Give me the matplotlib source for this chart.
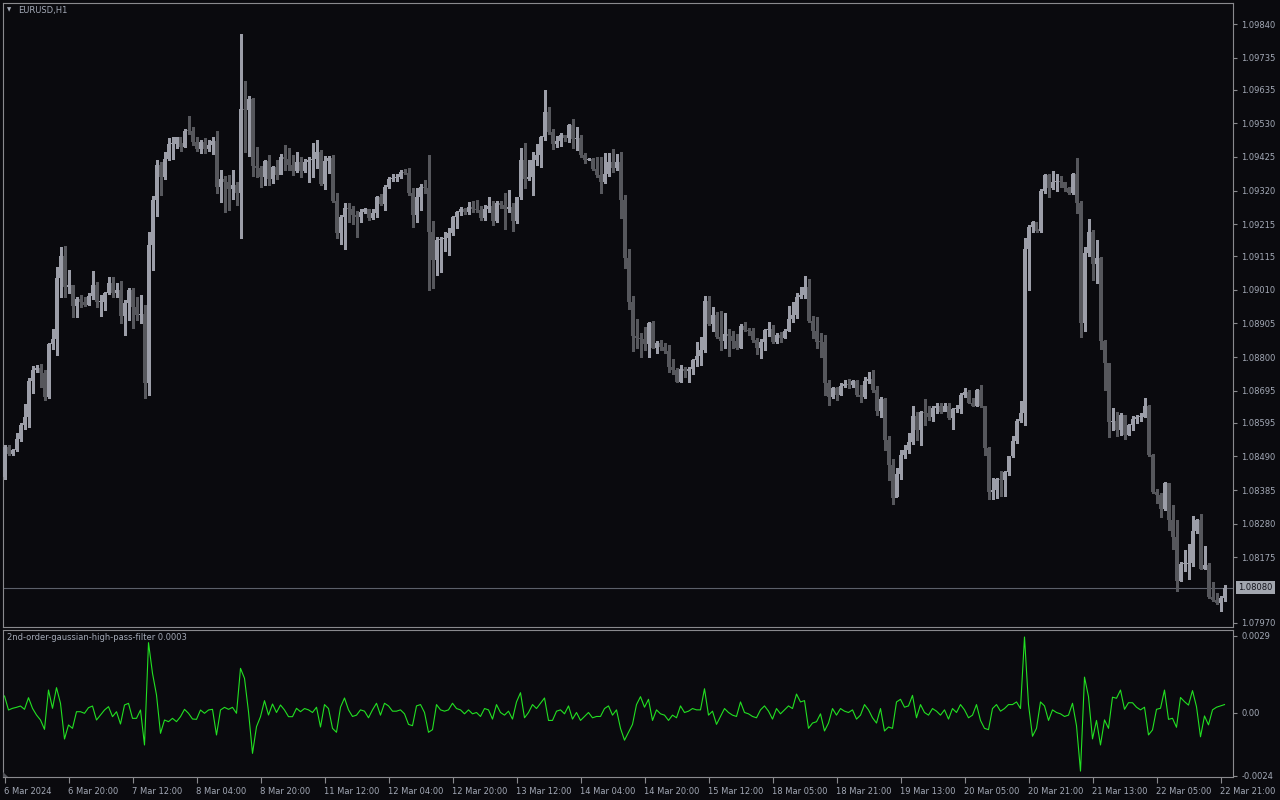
import matplotlib
matplotlib.use('Agg')
import matplotlib.pyplot as plt
import matplotlib.transforms as mtransforms
import numpy as np

symbol_title = "EURUSD,H1"
indicator_title = "2nd-order-gaussian-high-pass-filter 0.0003"
first_open = 1.08427
closes = [
1.08520,1.08499,1.08510,1.08543,1.08587,1.08612,1.08725,1.08760,1.08765,1.08749,
1.08676,1.08841,1.08858,1.09046,1.09115,1.09018,1.09025,1.08959,1.08983,1.08973,
1.08962,1.08990,1.09025,1.08973,1.08973,1.08999,1.09030,1.08999,1.09009,1.08928,
1.08970,1.09009,1.08957,1.08931,1.08934,1.08718,1.09150,1.09292,1.09400,1.09363,
1.09417,1.09465,1.09465,1.09486,1.09457,1.09507,1.09505,1.09472,1.09451,1.09471,
1.09451,1.09461,1.09474,1.09330,1.09356,1.09348,1.09326,1.09337,1.09311,1.09576,
1.09571,1.09606,1.09397,1.09389,1.09363,1.09412,1.09356,1.09394,1.09368,1.09426,
1.09417,1.09400,1.09382,1.09410,1.09382,1.09410,1.09415,1.09418,1.09440,1.09340,
1.09413,1.09422,1.09288,1.09188,1.09238,1.09267,1.09263,1.09243,1.09236,1.09254,
1.09262,1.09233,1.09251,1.09301,1.09278,1.09332,1.09356,1.09358,1.09363,1.09378,
1.09376,1.09311,1.09243,1.09299,1.09332,1.09329,1.09192,1.09102,1.09166,1.09169,
1.09172,1.09187,1.09238,1.09253,1.09263,1.09252,1.09268,1.09261,1.09260,1.09234,
1.09263,1.09272,1.09226,1.09282,1.09275,1.09262,1.09270,1.09226,1.09299,1.09415,
1.09356,1.09363,1.09415,1.09431,1.09487,1.09565,1.09504,1.09465,1.09475,1.09493,
1.09485,1.09525,1.09481,1.09483,1.09431,1.09415,1.09419,1.09387,1.09369,1.09346,
1.09371,1.09408,1.09389,1.09408,1.09291,1.09110,1.08971,1.08867,1.08861,1.08857,
1.08840,1.08905,1.08830,1.08845,1.08833,1.08819,1.08770,1.08760,1.08723,1.08763,
1.08757,1.08763,1.08791,1.08804,1.08822,1.08975,1.08902,1.08932,1.08864,1.08850,
1.08873,1.08867,1.08850,1.08827,1.08897,1.08885,1.08880,1.08854,1.08827,1.08846,
1.08885,1.08888,1.08846,1.08869,1.08861,1.08882,1.08918,1.08932,1.08988,1.08994,
1.09018,1.08913,1.08880,1.08848,1.08846,1.08718,1.08677,1.08703,1.08682,1.08710,
1.08715,1.08713,1.08726,1.08682,1.08675,1.08726,1.08732,1.08698,1.08633,1.08669,
1.08540,1.08463,1.08360,1.08435,1.08495,1.08510,1.08534,1.08617,1.08572,1.08630,
1.08627,1.08614,1.08641,1.08648,1.08630,1.08648,1.08609,1.08637,1.08637,1.08682,
1.08692,1.08658,1.08648,1.08696,1.08646,1.08516,1.08380,1.08385,1.08419,1.08417,
1.08440,1.08490,1.08538,1.08602,1.08627,1.09138,1.09206,1.09223,1.09194,1.09319,
1.09369,1.09327,1.09348,1.09348,1.09346,1.09327,1.09312,1.09372,1.09280,1.08908,
1.09124,1.09192,1.09090,1.09109,1.08849,1.08781,1.08596,1.08599,1.08571,1.08618,
1.08557,1.08588,1.08607,1.08612,1.08614,1.08646,1.08495,1.08380,1.08370,1.08325,
1.08408,1.08292,1.08238,1.08102,1.08154,1.08154,1.08156,1.08258,1.08290,1.08140,
1.08151,1.08050,1.08042,1.08031,1.08047,1.08080]
highs = [
1.08525,1.08525,1.08512,1.08562,1.08595,1.08655,1.08734,1.08772,1.08775,1.08780,
1.08760,1.08845,1.08887,1.09080,1.09143,1.09147,1.09072,1.09025,1.08988,1.08994,
1.08988,1.08999,1.09070,1.09035,1.08994,1.09004,1.09049,1.09049,1.09030,1.09038,
1.08978,1.09015,1.09015,1.08988,1.08994,1.08962,1.09191,1.09303,1.09415,1.09410,
1.09441,1.09483,1.09486,1.09488,1.09467,1.09511,1.09553,1.09519,1.09486,1.09478,
1.09483,1.09478,1.09486,1.09507,1.09384,1.09365,1.09368,1.09384,1.09347,1.09808,
1.09663,1.09615,1.09608,1.09457,1.09396,1.09415,1.09431,1.09396,1.09415,1.09434,
1.09462,1.09452,1.09431,1.09441,1.09426,1.09417,1.09426,1.09467,1.09478,1.09446,
1.09428,1.09428,1.09431,1.09311,1.09243,1.09282,1.09280,1.09272,1.09257,1.09261,
1.09267,1.09261,1.09261,1.09303,1.09309,1.09336,1.09363,1.09371,1.09371,1.09384,
1.09386,1.09389,1.09327,1.09327,1.09340,1.09353,1.09431,1.09225,1.09176,1.09176,
1.09192,1.09202,1.09241,1.09257,1.09269,1.09267,1.09284,1.09286,1.09290,1.09273,
1.09275,1.09300,1.09286,1.09286,1.09287,1.09311,1.09322,1.09280,1.09301,1.09452,
1.09468,1.09415,1.09441,1.09464,1.09491,1.09634,1.09581,1.09512,1.09491,1.09499,
1.09493,1.09527,1.09543,1.09519,1.09493,1.09436,1.09423,1.09423,1.09426,1.09426,
1.09436,1.09436,1.09450,1.09433,1.09441,1.09306,1.09138,1.08992,1.08919,1.08874,
1.08895,1.08909,1.08913,1.08850,1.08854,1.08843,1.08838,1.08794,1.08767,1.08775,
1.08770,1.08770,1.08794,1.08846,1.08864,1.08992,1.08992,1.08958,1.08942,1.08944,
1.08937,1.08887,1.08880,1.08871,1.08902,1.08909,1.08892,1.08892,1.08861,1.08857,
1.08888,1.08911,1.08900,1.08874,1.08877,1.08888,1.08960,1.08973,1.08999,1.09020,
1.09053,1.09044,1.08929,1.08926,1.08874,1.08869,1.08729,1.08706,1.08708,1.08718,
1.08729,1.08731,1.08729,1.08729,1.08713,1.08739,1.08755,1.08760,1.08710,1.08677,
1.08672,1.08554,1.08481,1.08453,1.08510,1.08526,1.08562,1.08648,1.08630,1.08633,
1.08669,1.08646,1.08646,1.08656,1.08656,1.08656,1.08656,1.08641,1.08651,1.08687,
1.08703,1.08698,1.08672,1.08702,1.08713,1.08648,1.08518,1.08422,1.08422,1.08443,
1.08446,1.08492,1.08554,1.08606,1.08664,1.09171,1.09213,1.09226,1.09199,1.09324,
1.09372,1.09372,1.09382,1.09372,1.09366,1.09348,1.09332,1.09376,1.09421,1.09286,
1.09143,1.09231,1.09197,1.09166,1.09114,1.08854,1.08783,1.08641,1.08630,1.08625,
1.08620,1.08592,1.08617,1.08620,1.08625,1.08672,1.08651,1.08498,1.08388,1.08377,
1.08411,1.08406,1.08339,1.08290,1.08161,1.08198,1.08217,1.08304,1.08294,1.08310,
1.08210,1.08156,1.08099,1.08065,1.08054,1.08088]
lows = [
1.08420,1.08494,1.08494,1.08508,1.08539,1.08577,1.08583,1.08687,1.08754,1.08708,
1.08666,1.08671,1.08824,1.08806,1.08988,1.08988,1.08999,1.08926,1.08924,1.08957,
1.08959,1.08962,1.08983,1.08957,1.08928,1.08947,1.08997,1.08988,1.08988,1.08907,
1.08869,1.08916,1.08890,1.08916,1.08905,1.08671,1.08681,1.09072,1.09240,1.09306,
1.09355,1.09415,1.09420,1.09452,1.09444,1.09457,1.09496,1.09462,1.09444,1.09436,
1.09436,1.09444,1.09434,1.09311,1.09285,1.09254,1.09259,1.09295,1.09275,1.09171,
1.09441,1.09428,1.09365,1.09363,1.09330,1.09337,1.09337,1.09344,1.09355,1.09371,
1.09384,1.09384,1.09368,1.09379,1.09363,1.09379,1.09348,1.09363,1.09389,1.09337,
1.09324,1.09374,1.09285,1.09171,1.09153,1.09139,1.09223,1.09217,1.09176,1.09223,
1.09249,1.09228,1.09230,1.09238,1.09275,1.09259,1.09327,1.09351,1.09351,1.09358,
1.09371,1.09306,1.09207,1.09223,1.09260,1.09312,1.09010,1.09017,1.09055,1.09067,
1.09130,1.09119,1.09180,1.09202,1.09244,1.09246,1.09246,1.09254,1.09254,1.09228,
1.09228,1.09254,1.09213,1.09221,1.09265,1.09200,1.09254,1.09194,1.09218,1.09294,
1.09329,1.09353,1.09306,1.09400,1.09395,1.09478,1.09496,1.09450,1.09457,1.09460,
1.09475,1.09473,1.09454,1.09447,1.09426,1.09405,1.09414,1.09384,1.09363,1.09311,
1.09343,1.09366,1.09379,1.09384,1.09233,1.09079,1.08950,1.08819,1.08827,1.08801,
1.08822,1.08801,1.08827,1.08812,1.08822,1.08812,1.08753,1.08747,1.08721,1.08723,
1.08739,1.08723,1.08747,1.08773,1.08775,1.08815,1.08900,1.08882,1.08861,1.08822,
1.08827,1.08805,1.08827,1.08825,1.08827,1.08880,1.08869,1.08848,1.08809,1.08796,
1.08822,1.08867,1.08843,1.08843,1.08846,1.08859,1.08880,1.08911,1.08923,1.08984,
1.08984,1.08909,1.08859,1.08827,1.08801,1.08682,1.08651,1.08672,1.08666,1.08682,
1.08706,1.08703,1.08708,1.08679,1.08661,1.08672,1.08718,1.08692,1.08620,1.08614,
1.08510,1.08415,1.08342,1.08365,1.08419,1.08484,1.08500,1.08529,1.08542,1.08526,
1.08588,1.08604,1.08602,1.08625,1.08625,1.08633,1.08606,1.08575,1.08630,1.08625,
1.08675,1.08656,1.08646,1.08646,1.08644,1.08495,1.08356,1.08356,1.08360,1.08367,
1.08365,1.08432,1.08487,1.08531,1.08596,1.08588,1.09010,1.09192,1.09192,1.09192,
1.09312,1.09299,1.09324,1.09320,1.09330,1.09320,1.09310,1.09310,1.09251,1.08864,
1.08883,1.09116,1.09041,1.09031,1.08825,1.08696,1.08550,1.08571,1.08554,1.08557,
1.08544,1.08557,1.08573,1.08594,1.08599,1.08612,1.08492,1.08377,1.08344,1.08302,
1.08323,1.08261,1.08200,1.08071,1.08102,1.08133,1.08106,1.08148,1.08252,1.08137,
1.08137,1.08047,1.08040,1.08029,1.08008,1.08040]
hpf = [
0.000625,0.000095,0.000158,0.000196,0.000246,0.000120,0.000562,0.000158,-0.000095,-0.000284,
-0.000638,0.000852,0.000158,0.000941,0.000347,-0.001004,-0.000473,-0.000600,0.000030,0.000030,
-0.000030,0.000183,0.000246,-0.000284,-0.000095,0.000095,0.000221,-0.000158,0.000030,-0.000436,
0.000284,0.000347,-0.000221,-0.000221,0.000095,-0.001231,0.002645,0.001484,0.000663,-0.000789,
-0.000284,-0.000347,-0.000221,-0.000347,-0.000158,0.000120,-0.000030,-0.000246,-0.000259,0.000095,
-0.000030,0.000095,0.000120,-0.000852,0.000095,0.000196,0.000120,0.000196,-0.000030,0.001673,
0.001294,0.000030,-0.001547,-0.000537,-0.000158,0.000448,-0.000095,0.000322,0.000000,0.000284,
0.000095,-0.000158,-0.000158,0.000158,0.000030,
0.00015,0.00010,0.00000,0.00020,-0.00055,0.00030,0.00015,-0.00060,-0.00075,0.00020,
0.00055,0.00010,-0.00015,-0.00010,0.00010,0.00005,-0.00020,0.00010,0.00035,-0.00010,
0.00035,0.00025,0.00005,0.00005,0.00010,-0.00005,-0.00045,-0.00050,0.00025,0.00030,
0.00000,-0.00075,-0.00065,0.00030,0.00010,0.00005,0.00010,0.00035,0.00015,0.00010,
-0.00005,0.00010,-0.00005,0.00000,-0.00015,0.00015,0.00010,-0.00025,0.00030,0.00000,
-0.00010,0.00005,-0.00025,0.00040,0.00075,-0.00020,0.00000,0.00030,0.00015,0.00035,
0.00055,-0.00030,-0.00030,0.00005,0.00010,-0.00005,0.00025,-0.00025,0.00000,-0.00030,
-0.00015,0.00000,-0.00020,-0.00015,-0.00015,0.00015,0.00025,-0.00010,0.00010,-0.00060,
-0.00105,-0.00075,-0.00045,0.00030,0.00060,0.00020,0.00050,-0.00030,0.00010,-0.00005,
-0.00010,-0.00030,-0.00010,-0.00020,0.00025,0.00000,0.00005,0.00015,0.00010,0.00010,
0.00090,-0.00010,0.00005,-0.00045,-0.00015,0.00015,0.00000,-0.00010,-0.00015,0.00040,
0.00000,-0.00005,-0.00015,-0.00020,0.00010,0.00025,0.00005,-0.00025,0.00015,-0.00005,
0.00010,0.00025,0.00015,0.00070,0.00040,0.00045,-0.00060,-0.00040,-0.00035,-0.00005,
-0.00070,-0.00040,0.00015,-0.00010,0.00015,0.00005,0.00000,0.00010,-0.00025,-0.00010,
0.00030,0.00010,-0.00020,-0.00040,0.00015,-0.00070,-0.00055,-0.00060,0.00040,0.00050,
0.00020,0.00025,0.00065,-0.00020,0.00030,0.00000,-0.00010,0.00015,0.00005,-0.00010,
0.00010,-0.00025,0.00015,0.00000,0.00030,0.00010,-0.00020,-0.00010,0.00030,-0.00030,
-0.00060,-0.00065,0.00015,0.00030,0.00005,0.00015,0.00030,0.00030,0.00040,0.00015,
0.00286,0.00030,-0.00090,-0.00060,0.00040,0.00025,-0.00030,0.00010,0.00000,-0.00005,
-0.00015,-0.00010,0.00035,-0.00050,-0.00222,0.00134,0.00060,-0.00100,-0.00030,
-0.00123,-0.00028,-0.00060,0.00058,0.00054,0.00085,0.00012,0.00037,0.00037,0.00020,
0.00010,0.00020,-0.00085,-0.00066,0.00012,0.00016,0.00085,-0.00026,-0.00022,-0.00056,
0.00057,0.00041,0.00028,0.00083,0.00022,-0.00092,-0.00013,-0.00047,0.00010,0.00020,
0.00025,0.00030]

price_ticks = [1.09840,1.09735,1.09635,1.09530,1.09425,1.09320,1.09215,1.09115,1.09010,
               1.08905,1.08800,1.08695,1.08595,1.08490,1.08385,1.08280,1.08175,1.07970]
current_price = 1.08080
time_tick_bars = [0,16,32,48,64,80,96,112,128,144,160,176,192,208,224,240,256,272,288,304]
time_labels = ["6 Mar 2024","6 Mar 20:00","7 Mar 12:00","8 Mar 04:00","8 Mar 20:00",
               "11 Mar 12:00","12 Mar 04:00","12 Mar 20:00","13 Mar 12:00","14 Mar 04:00",
               "14 Mar 20:00","15 Mar 12:00","18 Mar 05:00","18 Mar 21:00","19 Mar 13:00",
               "20 Mar 05:00","20 Mar 21:00","21 Mar 13:00","22 Mar 05:00","22 Mar 21:00"]
ind_ticks = [0.0029, 0.0, -0.0024]
ind_tick_labels = ["0.0029", "0.00", "-0.0024"]

BG = '#0a0a0e'
FRAME = '#8a8a8e'
TXT = '#a3a9b6'
BULL = '#9c9ea8'
BEAR = '#56575c'
GREEN = '#22e022'
FONT = 'DejaVu Sans'
FS = 6.0

W, H = 1280, 800
fig = plt.figure(figsize=(W/100, H/100), dpi=100, facecolor=BG)

def rect(l, t, r, b):
    return [l/W, 1 - b/H, (r - l)/W, (b - t)/H]

ax = fig.add_axes(rect(3, 3, 1233, 627))
ax2 = fig.add_axes(rect(3, 630, 1233, 777))

n = len(closes)
x = np.arange(n)
c = np.array(closes)
o = np.array([first_open] + closes[:-1])
hi = np.array(highs)
lo = np.array(lows)
up = c >= o
cols = np.where(up, BULL, BEAR)

ylo, yhi = 1.079574, 1.099056
px = (yhi - ylo) / 624.0

for a in (ax, ax2):
    a.set_facecolor(BG)
    a.set_xlim(-0.375, 307.125)
    for s in a.spines.values():
        s.set_color(FRAME)
        s.set_linewidth(0.8)

ax.vlines(x, lo, hi, colors=cols, linewidth=0.75, antialiased=False, zorder=2)
body_bottom = np.minimum(o, c)
body_h = np.maximum(np.abs(c - o), px)
ax.bar(x, body_h, bottom=body_bottom, width=0.75, color=cols, linewidth=0,
       antialiased=False, zorder=3)
ax.set_ylim(ylo, yhi)

ax.axhline(current_price, color='#5c606a', linewidth=0.8, zorder=1)

ax.yaxis.tick_right()
ax.set_yticks(price_ticks)
ax.set_yticklabels([f"{v:.5f}" for v in price_ticks])
ax.tick_params(axis='y', direction='out', length=3, width=0.8, color=FRAME,
               labelsize=FS, labelcolor=TXT, pad=3)
ax.set_xticks([])
for lab in ax.get_yticklabels():
    lab.set_fontfamily(FONT)

trans = mtransforms.blended_transform_factory(ax.transAxes, ax.transData)
ax.text(1.0 + 5/1230, current_price, f"{current_price:.5f}", transform=trans,
        ha='left', va='center', fontsize=FS, color='#14141c', family=FONT,
        bbox=dict(facecolor='#a2a6ae', edgecolor='none', pad=1.6), zorder=5, clip_on=False)

# indicator pane
ax2.plot(x[:len(hpf)], hpf, color=GREEN, linewidth=0.8, zorder=3)
ax2.set_ylim(-0.002443, 0.003125)
ax2.yaxis.tick_right()
ax2.set_yticks(ind_ticks)
ax2.set_yticklabels(ind_tick_labels)
ax2.tick_params(axis='y', direction='out', length=3, width=0.8, color=FRAME,
                labelsize=FS, labelcolor=TXT, pad=3)
ax2.set_xticks(time_tick_bars)
ax2.set_xticklabels(time_labels)
ax2.tick_params(axis='x', direction='out', length=4, width=0.8, color=FRAME,
                labelsize=FS, labelcolor=TXT, pad=3)
for lab in ax2.get_xticklabels():
    lab.set_horizontalalignment('left')
    lab.set_fontfamily(FONT)
for lab in ax2.get_yticklabels():
    lab.set_fontfamily(FONT)

# small shift marker in the lower-left corner of the indicator pane
ax2.fill([-0.375, -0.375, 0.9], [-0.002443, -0.002443 + 5 * (0.005568 / 147), -0.002443],
         color='#55565c', linewidth=0, zorder=4, clip_on=False)

# titles
fig.text(18/W, 1 - 10/H, symbol_title, fontsize=FS, color=TXT, family=FONT,
         ha='left', va='center')
fig.text(9/W, 1 - 10/H, '\u25BC', fontsize=4, color=TXT, family=FONT,
         ha='center', va='center')
fig.text(7/W, 1 - 638/H, indicator_title, fontsize=FS, color=TXT, family=FONT,
         ha='left', va='center')

fig.savefig('out.png', dpi=100, facecolor=BG)
